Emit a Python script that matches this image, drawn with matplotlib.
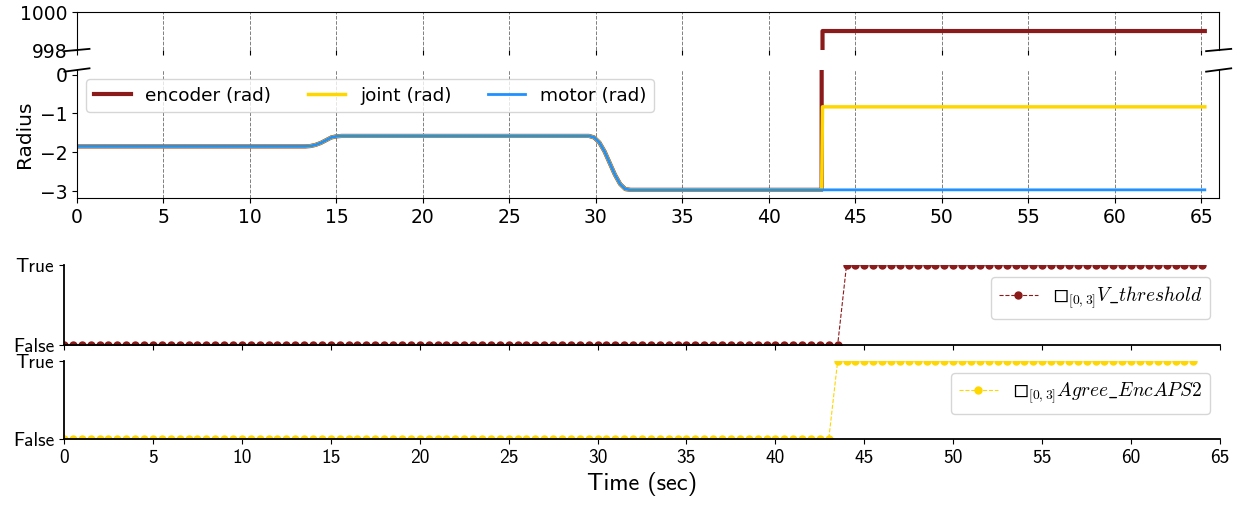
import numpy as np
import matplotlib
matplotlib.use("Agg")
import matplotlib.pyplot as plt

plt.rcParams['mathtext.fontset'] = 'cm'

# datos de posicion (rad)
t_pos = [0.0, 13.2, 13.5, 13.8, 14.1, 14.4, 14.7, 15.0, 15.3,
         29.6, 29.9, 30.2, 30.5, 30.8, 31.1, 31.4, 31.7, 32.0, 43.05]
pos_comun = [-1.85, -1.85, -1.84, -1.81, -1.76, -1.69, -1.62, -1.59, -1.58,
             -1.58, -1.62, -1.75, -1.98, -2.28, -2.58, -2.82, -2.95, -2.97, -2.97]
t_fin = [43.1, 65.2]
encoder_fin = [999.0, 999.0]
joint_fin = [-0.83, -0.83]
motor_fin = [-2.97, -2.97]

# datos booleanos (muestras cada 0.5 s, por tramos)
paso = 0.5
v_threshold_inicio = 0.0
v_threshold_tramos = [(0, 88), (1, 41)]
agree_inicio = 0.0
agree_tramos = [(0, 87), (1, 41)]

x_ticks = list(range(0, 70, 5))

c_enc = '#8b1a1a'
c_joint = '#ffd700'
c_motor = '#1e90ff'

fig = plt.figure(figsize=(12.41, 5.12), dpi=100)
ax_up = fig.add_axes([0.062, 0.9023, 0.920, 0.0742])
ax_lo = fig.add_axes([0.062, 0.6133, 0.920, 0.2500])

t_all = t_pos + t_fin
for ax in (ax_up, ax_lo):
    ax.plot(t_all, pos_comun + encoder_fin, color=c_enc, lw=3, label='encoder (rad)')
    ax.plot(t_all, pos_comun + joint_fin, color=c_joint, lw=2.5, label='joint (rad)')
    ax.plot(t_all, pos_comun + motor_fin, color=c_motor, lw=2, label='motor (rad)')
    ax.set_xlim(0, 66)
    ax.set_xticks(x_ticks)
    ax.grid(True, axis='x', linestyle='--', color='gray', lw=0.7)
    ax.tick_params(labelsize=13.5)

ax_up.set_ylim(998, 1000)
ax_up.set_yticks([998, 1000])
ax_up.spines['bottom'].set_visible(False)
ax_up.tick_params(labelbottom=False)

ax_lo.set_ylim(-3.18, 0.12)
ax_lo.set_yticks([0, -1, -2, -3])
ax_lo.spines['top'].set_visible(False)
ax_lo.set_ylabel('Radius', fontsize=14.5)
ax_lo.legend(loc='upper left', ncol=3, fontsize=13.3, borderaxespad=0.5)

# marcas de corte del eje
dx = 0.011
kw = dict(color='k', clip_on=False, lw=1.3)
ax_up.plot((-dx, dx), (-0.03, 0.03), transform=ax_up.transAxes, **kw)
ax_up.plot((1 - dx, 1 + dx), (-0.03, 0.03), transform=ax_up.transAxes, **kw)
ax_lo.plot((-dx, dx), (1 - 0.013, 1 + 0.013), transform=ax_lo.transAxes, **kw)
ax_lo.plot((1 - dx, 1 + dx), (1 - 0.013, 1 + 0.013), transform=ax_lo.transAxes, **kw)

# paneles booleanos
fuente = ['cmss10', 'DejaVu Sans']
ax_b1 = fig.add_axes([0.0516, 0.3262, 0.9315, 0.1563])
ax_b2 = fig.add_axes([0.0516, 0.1426, 0.9315, 0.1523])


def serie(inicio, tramos):
    vals = np.concatenate([np.full(n, v) for v, n in tramos])
    t = inicio + paso * np.arange(len(vals))
    return t, vals


t1, v1 = serie(v_threshold_inicio, v_threshold_tramos)
t2, v2 = serie(agree_inicio, agree_tramos)
ax_b1.plot(t1, v1, '--o', color=c_enc, lw=0.8, ms=5,
           label='$◻_{[0,3]}V\\_threshold$')
ax_b2.plot(t2, v2, '--o', color=c_joint, lw=0.8, ms=5,
           label='$◻_{[0,3]}Agree\\_EncAPS2$')

for ax in (ax_b1, ax_b2):
    ax.set_xlim(0, 65)
    ax.set_ylim(0, 1)
    ax.set_yticks([0, 1])
    ax.set_yticklabels(['False', 'True'], family=fuente, fontsize=14)
    ax.set_xticks(x_ticks)
    ax.spines['top'].set_visible(False)
    ax.spines['right'].set_visible(False)
    ax.spines['left'].set_linewidth(1.3)
    ax.spines['bottom'].set_linewidth(1.3)
    ax.legend(loc='upper right', bbox_to_anchor=(1.0, 0.97), fontsize=14)

ax_b1.tick_params(labelbottom=False)
ax_b2.set_xticklabels([str(x) for x in x_ticks], family=fuente, fontsize=14)
ax_b2.set_xlabel('Time (sec)', family=fuente, fontsize=17.5)

fig.savefig('out.png', dpi=100)
